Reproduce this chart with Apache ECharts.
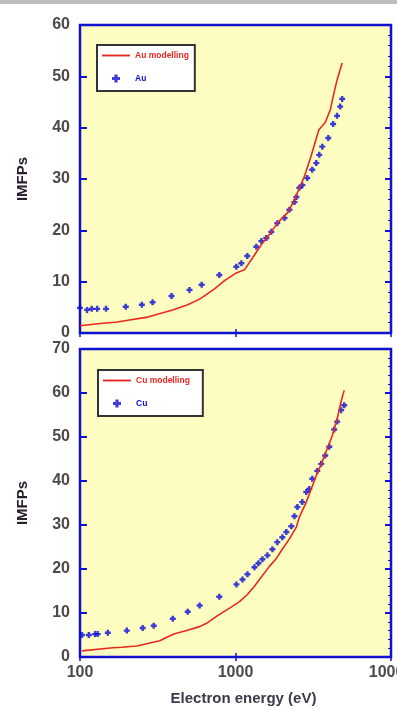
<!DOCTYPE html>
<html>
<head>
<meta charset="utf-8">
<script src="https://cdn.jsdelivr.net/npm/echarts@6/dist/echarts.min.js"></script>
<style>
  html, body { margin: 0; padding: 0; background: #ffffff; }
  #topbar { position: absolute; left: 0; top: 0; width: 397px; height: 4px; background: #bdbdbd; }
  #chart { position: absolute; left: 0; top: 0; width: 397px; height: 708px; }
</style>
</head>
<body>
<div id="chart"></div>
<div id="topbar"></div>
<script>
// Energies in eV, IMFP values in Å
const auModelE = [100, 140, 170, 203, 273, 394, 493, 588, 733, 850, 1012, 1142, 1286, 1490, 1700, 1857, 2157, 2393, 2574, 2767, 3050, 3437, 3776, 4073, 4242, 4500, 4853];
const auModelV = [1.4, 1.9, 2.1, 2.5, 3.1, 4.5, 5.5, 6.6, 8.6, 10.2, 11.7, 12.3, 14.6, 17.5, 19.7, 21.4, 23.4, 25.9, 28.3, 30.4, 34.3, 39.6, 41.0, 43.5, 46.0, 49.3, 52.6];

const auE = [100, 111, 119, 129, 147, 197, 250, 293, 388, 506, 606, 787, 1012, 1091, 1191, 1361, 1466, 1578, 1700, 1857, 2065, 2222, 2393, 2464, 2574, 2691, 2893, 3114, 3306, 3457, 3613, 3951, 4242, 4500, 4709, 4853];
const auV = [4.9, 4.5, 4.7, 4.7, 4.7, 5.1, 5.5, 6.0, 7.2, 8.4, 9.4, 11.3, 12.9, 13.6, 15.0, 16.8, 17.9, 18.5, 19.7, 21.4, 22.4, 24.0, 25.5, 26.5, 28.3, 28.8, 30.2, 31.8, 33.1, 34.7, 36.3, 38.0, 40.7, 42.3, 44.1, 45.6];

const cuModelE = [103, 163, 186, 232, 281, 326, 367, 406, 485, 588, 662, 767, 916, 1061, 1194, 1324, 1425, 1652, 1831, 2000, 2218, 2461, 2574, 2853, 3069, 3306, 3613, 3890, 4190, 4509, 4780, 5000];
const cuModelV = [1.4, 2.1, 2.2, 2.5, 3.2, 3.7, 4.6, 5.3, 6.0, 6.9, 7.8, 9.4, 11.1, 12.6, 14.2, 16.1, 17.6, 20.6, 22.4, 24.5, 26.8, 29.5, 31.8, 35.2, 38.2, 41.2, 44.4, 47.4, 50.3, 54.2, 58.1, 60.6];

const cuE = [103, 114, 125, 130, 151, 200, 253, 298, 395, 493, 588, 787, 1014, 1109, 1194, 1324, 1404, 1490, 1604, 1727, 1857, 2000, 2123, 2285, 2393, 2500, 2688, 2853, 2981, 3117, 3357, 3559, 3776, 4009, 4313, 4509, 4780, 5000];
const cuV = [5.0, 5.0, 5.2, 5.2, 5.5, 6.0, 6.6, 7.1, 8.7, 10.3, 11.7, 13.7, 16.5, 17.6, 18.8, 20.4, 21.3, 22.2, 23.1, 24.5, 26.1, 27.2, 28.4, 29.7, 32.0, 34.1, 35.2, 37.5, 38.2, 40.5, 42.3, 43.9, 45.8, 47.8, 51.7, 53.5, 56.1, 57.2];

const xTicks = [100, 1000, 10000];
const yTicksTop = [0, 10, 20, 30, 40, 50, 60];
const yTicksBottom = [0, 10, 20, 30, 40, 50, 60, 70];

const pair = (xs, ys) => xs.map((x, i) => [x, ys[i]]);

const BLUE = '#0a0ad8';
const RED = '#e8281e';
const FRAME = '#1010d0';
const FONT = 'Liberation Sans, Arial, sans-serif';
const labelFont = { fontFamily: FONT, fontWeight: 'bold', fontSize: 16, color: '#4a4a4a' };
const plusPath = 'path://M3,0 L7,0 L7,3 L10,3 L10,7 L7,7 L7,10 L3,10 L3,7 L0,7 L0,3 L3,3 Z';
const linePath = 'path://M0,0 L30,0 L30,2 L0,2 Z';

function xAxisPair(gridIndex, showLabels) {
  return [
    {
      type: 'log', logBase: 10, min: xTicks[0], max: xTicks[xTicks.length - 1], gridIndex,
      axisLine: { show: false },
      axisTick: { show: true, inside: true, length: 4, lineStyle: { color: FRAME, width: 1.5 } },
      minorTick: { show: false },
      splitLine: { show: false },
      axisLabel: showLabels ? Object.assign({ margin: 8, formatter: v => String(Math.round(v)) }, labelFont) : { show: false },
      name: showLabels ? 'Electron energy (eV)' : '',
      nameLocation: 'middle', nameGap: 34,
      nameTextStyle: { fontFamily: FONT, fontWeight: 'bold', fontSize: 15, color: '#3a3a4a', padding: [0, 0, 0, 16] }
    },
    {
      type: 'log', logBase: 10, min: xTicks[0], max: xTicks[xTicks.length - 1], gridIndex, position: 'top',
      axisLine: { show: false },
      axisTick: { show: true, inside: true, length: 4, lineStyle: { color: FRAME, width: 1.5 } },
      splitLine: { show: false },
      axisLabel: { show: false }
    }
  ];
}

function yAxisPair(gridIndex, ticks) {
  const max = ticks[ticks.length - 1];
  return [
    {
      type: 'value', min: ticks[0], max, interval: 10, gridIndex,
      axisLine: { show: false },
      axisTick: { show: true, inside: true, length: 7, lineStyle: { color: FRAME, width: 2 } },
      splitLine: { show: false },
      axisLabel: Object.assign({ margin: 10 }, labelFont),
      name: 'IMFPs', nameLocation: 'middle', nameGap: 50,
      nameTextStyle: { fontFamily: FONT, fontWeight: 'bold', fontSize: 15, color: '#2a2030' }
    },
    {
      type: 'value', min: ticks[0], max, interval: 10, gridIndex, position: 'right',
      axisLine: { show: false },
      axisTick: { show: true, inside: true, length: 6, lineStyle: { color: FRAME, width: 2 } },
      minorTick: { show: true, splitNumber: 5, length: 3, lineStyle: { color: FRAME, width: 1 } },
      splitLine: { show: false },
      axisLabel: { show: false }
    }
  ];
}

const gridStyle = { show: true, backgroundColor: '#fdfdc2', borderColor: FRAME, borderWidth: 2.5, outerBoundsMode: 'none', containLabel: false };

function legendBox(left, top, names, padRight) {
  return {
    left, top, orient: 'vertical', itemGap: 14, itemWidth: 28, itemHeight: 8,
    backgroundColor: '#ffffff', borderColor: '#333333', borderWidth: 2,
    padding: [6, padRight, 8, 5],
    selectedMode: false,
    textStyle: { fontFamily: FONT, fontWeight: 'bold', fontSize: 8.5 },
    data: [
      { name: names[0], icon: linePath, itemStyle: { color: RED }, textStyle: { color: RED } },
      { name: names[1], textStyle: { color: BLUE } }
    ]
  };
}

const chart = echarts.init(document.getElementById('chart'), null, { renderer: 'canvas' });
chart.setOption({
  animation: false,
  grid: [
    Object.assign({ left: 80, top: 25, width: 311, height: 308 }, gridStyle),
    Object.assign({ left: 80, top: 349, width: 311, height: 308 }, gridStyle)
  ],
  xAxis: [...xAxisPair(0, false), ...xAxisPair(1, true)],
  yAxis: [...yAxisPair(0, yTicksTop), ...yAxisPair(1, yTicksBottom)],
  legend: [
    legendBox(97, 45, ['Au modelling', 'Au'], 6),
    legendBox(98, 370, ['Cu modelling', 'Cu'], 13)
  ],
  series: [
    {
      name: 'Au modelling', type: 'line', xAxisIndex: 0, yAxisIndex: 0,
      data: pair(auModelE, auModelV), showSymbol: false, symbol: 'none',
      lineStyle: { color: RED, width: 1.6 }, itemStyle: { color: RED }
    },
    {
      name: 'Au', type: 'scatter', xAxisIndex: 0, yAxisIndex: 0,
      data: pair(auE, auV), symbol: plusPath, symbolSize: 6,
      itemStyle: { color: BLUE }
    },
    {
      name: 'Cu modelling', type: 'line', xAxisIndex: 2, yAxisIndex: 2,
      data: pair(cuModelE, cuModelV), showSymbol: false, symbol: 'none',
      lineStyle: { color: RED, width: 1.6 }, itemStyle: { color: RED }
    },
    {
      name: 'Cu', type: 'scatter', xAxisIndex: 2, yAxisIndex: 2,
      data: pair(cuE, cuV), symbol: plusPath, symbolSize: 6,
      itemStyle: { color: BLUE }
    }
  ]
});
</script>
</body>
</html>
